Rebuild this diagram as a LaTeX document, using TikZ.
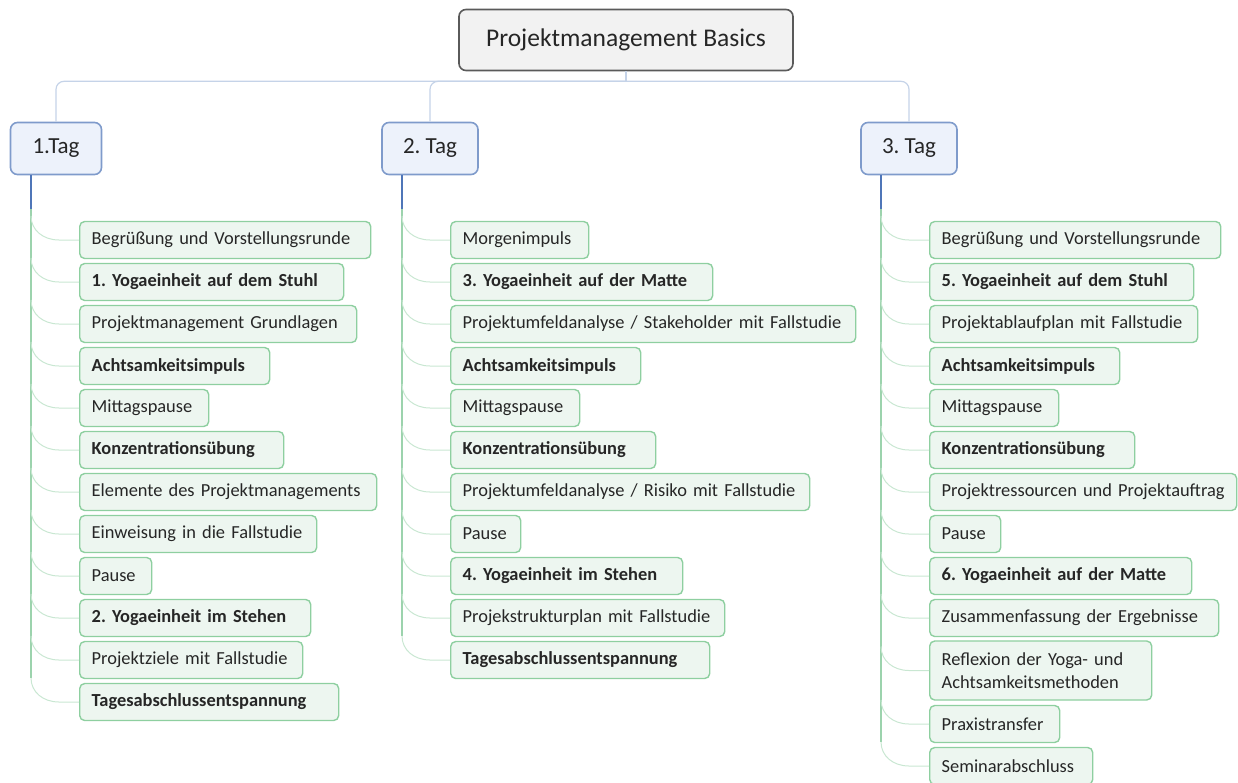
\documentclass[tikz,border=0pt]{standalone}
\usepackage{fontspec}
\setmainfont{Carlito}
\usetikzlibrary{calc}
\usepackage{xcolor}
\frenchspacing

\definecolor{textdark}{HTML}{262626}
\definecolor{rootfill}{HTML}{F2F2F2}
\definecolor{rootdraw}{HTML}{5A5A5A}
\definecolor{dayfill}{HTML}{EDF2FB}
\definecolor{daydraw}{HTML}{7F9BCB}
\definecolor{itemfill}{HTML}{EDF6F0}
\definecolor{itemdraw}{HTML}{8ECFA0}
\definecolor{topline}{HTML}{C5D3E8}
\definecolor{trunkblue}{HTML}{4F76B8}
\definecolor{trunkgreen}{HTML}{9CD3AD}
\definecolor{twiggreen}{HTML}{C9E7D2}

\newcommand{\itemfont}{\fontsize{18.4}{23}\selectfont}

\tikzset{
  rootbox/.style={draw=rootdraw, fill=rootfill, line width=1.6pt, rounded corners=7pt,
    minimum width=334pt, minimum height=61pt, text=textdark, font=\fontsize{25.5}{30}\selectfont},
  daybox/.style={draw=daydraw, fill=dayfill, line width=1.6pt, rounded corners=7pt,
    minimum width=#1, minimum height=52pt, text=textdark, font=\fontsize{23}{27}\selectfont},
  itembox/.style={draw=itemdraw, fill=itemfill, line width=1.4pt, rounded corners=5pt,
    anchor=west, minimum height=37pt, inner xsep=12pt, inner ysep=0pt, align=left,
    text=textdark, font=\itemfont,
    /utils/exec={\pgfmathsetlengthmacro\itemtw{#1-24}}, text width=\itemtw},
  bolditem/.style={itembox=#1, font=\itemfont\bfseries},
  twig/.style={draw=twiggreen, line width=1pt},
  topconn/.style={draw=topline, line width=1.2pt},
}

\begin{document}
\begin{tikzpicture}[x=1pt, y=-1pt]
\useasboundingbox (0,0) rectangle (1238,782);

% root and days
\node[rootbox] (root) at (626,40) {Projektmanagement Basics};
\node[daybox=91pt] (d1) at (56,148.5) {1.Tag};
\node[daybox=96pt] (d2) at (430,148.5) {2. Tag};
\node[daybox=96pt] (d3) at (909,148.5) {3. Tag};

\draw[topconn] (root.south) -- ++(0,10) coordinate (bar);
\draw[topconn, rounded corners=8pt] (d1.north) |- (bar) -| (d3.north);
\draw[topconn, rounded corners=8pt] (d2.north) |- (bar);

% 1. Tag
\node[itembox=291] (a1) at (79,240) {Begrüßung und Vorstellungsrunde};
\node[bolditem=264] (a2) at (79,282) {1. Yogaeinheit auf dem Stuhl};
\node[itembox=277] (a3) at (79,324) {Projektmanagement Grundlagen};
\node[bolditem=190] (a4) at (79,366) {Achtsamkeitsimpuls};
\node[itembox=129] (a5) at (79,408) {Mittagspause};
\node[bolditem=204] (a6) at (79,450) {Konzentrationsübung};
\node[itembox=297] (a7) at (79,492) {Elemente des Projektmanagements};
\node[itembox=237] (a8) at (79,534) {Einweisung in die Fallstudie};
\node[itembox=72] (a9) at (79,576) {Pause};
\node[bolditem=231] (a10) at (79,618) {2. Yogaeinheit im Stehen};
\node[itembox=223] (a11) at (79,660) {Projektziele mit Fallstudie};
\node[bolditem=259] (a12) at (79,702) {Tagesabschlussentspannung};

% 2. Tag
\node[itembox=138] (b1) at (450,240) {Morgenimpuls};
\node[bolditem=262] (b2) at (450,282) {3. Yogaeinheit auf der Matte};
\node[itembox=405] (b3) at (450,324) {Projektumfeldanalyse / Stakeholder mit Fallstudie};
\node[bolditem=190] (b4) at (450,366) {Achtsamkeitsimpuls};
\node[itembox=129] (b5) at (450,408) {Mittagspause};
\node[bolditem=205] (b6) at (450,450) {Konzentrationsübung};
\node[itembox=359] (b7) at (450,492) {Projektumfeldanalyse / Risiko mit Fallstudie};
\node[itembox=70] (b8) at (450,534) {Pause};
\node[bolditem=232] (b9) at (450,576) {4. Yogaeinheit im Stehen};
\node[itembox=274] (b10) at (450,618) {Projekstrukturplan mit Fallstudie};
\node[bolditem=259] (b11) at (450,660) {Tagesabschlussentspannung};

% 3. Tag
\node[itembox=291] (c1) at (929,240) {Begrüßung und Vorstellungsrunde};
\node[bolditem=264] (c2) at (929,282) {5. Yogaeinheit auf dem Stuhl};
\node[itembox=268] (c3) at (929,324) {Projektablaufplan mit Fallstudie};
\node[bolditem=190] (c4) at (929,366) {Achtsamkeitsimpuls};
\node[itembox=129] (c5) at (929,408) {Mittagspause};
\node[bolditem=205] (c6) at (929,450) {Konzentrationsübung};
\node[itembox=307] (c7) at (929,492) {Projektressourcen und Projektauftrag};
\node[itembox=71] (c8) at (929,534) {Pause};
\node[bolditem=262] (c9) at (929,576) {6. Yogaeinheit auf der Matte};
\node[itembox=289] (c10) at (929,618) {Zusammenfassung der Ergebnisse};
\node[itembox=222, minimum height=59pt] (c11) at (929,670.5) {Reflexion der Yoga- und\\Achtsamkeitsmethoden};
\node[itembox=130] (c12) at (929,724) {Praxistransfer};
\node[itembox=163] (c13) at (929,766) {Seminarabschluss};

% trunks
\draw[trunkblue, line width=1.2pt] ([xshift=-48pt]a1.west |- d1.south) -- ++(0,34) coordinate (g1);
\draw[trunkgreen, line width=1.2pt] (g1) -- ([xshift=-48pt, yshift=24pt]a12.west);
\draw[trunkblue, line width=1.2pt] ([xshift=-48pt]b1.west |- d2.south) -- ++(0,34) coordinate (g2);
\draw[trunkgreen, line width=1.2pt] (g2) -- ([xshift=-48pt, yshift=24pt]b11.west);
\draw[trunkblue, line width=1.2pt] ([xshift=-48pt]c1.west |- d3.south) -- ++(0,34) coordinate (g3);
\draw[trunkgreen, line width=1.2pt] (g3) -- ([xshift=-48pt, yshift=24pt]c13.west);

% twigs
\foreach \n in {a1,a2,a3,a4,a5,a6,a7,a8,a9,a10,a11,a12,
                b1,b2,b3,b4,b5,b6,b7,b8,b9,b10,b11,
                c1,c2,c3,c4,c5,c6,c7,c8,c9,c10,c11,c12,c13}
{	\draw[twig] (\n.west) -- ++(-20,0) .. controls +(-16,0) and +(0,14) .. ++(-28,-24);
}
\end{tikzpicture}
\end{document}
